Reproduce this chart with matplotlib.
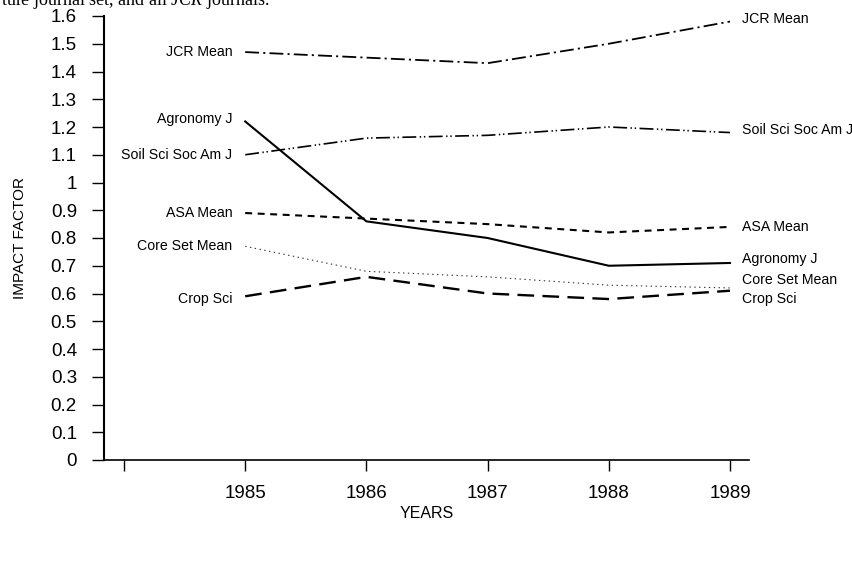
import matplotlib
matplotlib.use("Agg")
import matplotlib.pyplot as plt

years = [1985, 1986, 1987, 1988, 1989]
jcr_mean = [1.47, 1.45, 1.43, 1.50, 1.58]
soil_sci = [1.10, 1.16, 1.17, 1.20, 1.18]
agronomy_j = [1.22, 0.86, 0.80, 0.70, 0.71]
asa_mean = [0.89, 0.87, 0.85, 0.82, 0.84]
core_set_mean = [0.77, 0.68, 0.66, 0.63, 0.62]
crop_sci = [0.59, 0.66, 0.60, 0.58, 0.61]

x_ticks = [1984, 1985, 1986, 1987, 1988, 1989]
x_tick_labels = ["", "1985", "1986", "1987", "1988", "1989"]
y_ticks = [0, 0.1, 0.2, 0.3, 0.4, 0.5, 0.6, 0.7, 0.8, 0.9, 1.0, 1.1, 1.2, 1.3, 1.4, 1.5, 1.6]
y_tick_labels = ["0", "0.1", "0.2", "0.3", "0.4", "0.5", "0.6", "0.7", "0.8", "0.9", "1",
                 "1.1", "1.2", "1.3", "1.4", "1.5", "1.6"]

plt.rcParams["font.family"] = ["Liberation Sans", "DejaVu Sans"]
plt.rcParams["lines.scale_dashes"] = False
plt.rcParams["mathtext.fontset"] = "custom"
plt.rcParams["mathtext.rm"] = "Liberation Serif"
plt.rcParams["mathtext.it"] = "Liberation Serif:italic"

fig = plt.figure(figsize=(8.52, 5.82), dpi=100)
ax = fig.add_axes([104 / 852, 1 - 460 / 582, (749 - 104) / 852, (460 - 16) / 582])

series = [
    ("JCR Mean", jcr_mean, dict(color="black", lw=1.3, ls=(0, (10, 3, 1.5, 3)))),
    ("Soil Sci Soc Am J", soil_sci, dict(color="black", lw=1.2, ls=(0, (10, 2.5, 1, 2, 1, 2.5)))),
    ("Agronomy J", agronomy_j, dict(color="black", lw=1.5, ls="-")),
    ("ASA Mean", asa_mean, dict(color="black", lw=1.5, ls=(0, (5, 4)))),
    ("Core Set Mean", core_set_mean, dict(color="#333333", lw=0.8, ls=(0, (1, 2.5)))),
    ("Crop Sci", crop_sci, dict(color="black", lw=1.7, ls=(0, (12, 6)))),
]
for name, vals, st in series:
    ax.plot(years, vals, **st)

# end labels (value offsets for label placement only)
left_label_dy = {"JCR Mean": 0.0, "Soil Sci Soc Am J": 0.0, "Agronomy J": 0.01,
                 "ASA Mean": 0.0, "Core Set Mean": 0.0, "Crop Sci": -0.01}
right_label_dy = {"JCR Mean": 0.01, "Soil Sci Soc Am J": 0.01, "Agronomy J": 0.015,
                  "ASA Mean": 0.0, "Core Set Mean": 0.03, "Crop Sci": -0.03}
for name, vals, st in series:
    ax.annotate(name, xy=(years[0], vals[0] + left_label_dy[name]), xytext=(-13, 0),
                textcoords="offset pixels", ha="right", va="center", fontsize=10.2,
                annotation_clip=False)
    ax.annotate(name, xy=(years[-1], vals[-1] + right_label_dy[name]), xytext=(12, 0),
                textcoords="offset pixels", ha="left", va="center", fontsize=10.2,
                annotation_clip=False)

ax.set_xlim(1984 - 20 / 121.2, 1989 + 19 / 121.2)
ax.set_ylim(0, 1.6)
ax.set_xticks(x_ticks)
ax.set_xticklabels(x_tick_labels)
ax.set_yticks(y_ticks)
ax.set_yticklabels(y_tick_labels)
ax.tick_params(axis="y", direction="out", length=8.5, width=1.0, pad=11, labelsize=13.5)
ax.tick_params(axis="x", direction="out", length=7.7, width=1.0, pad=10, labelsize=13.5)
for s in ["top", "right"]:
    ax.spines[s].set_visible(False)
ax.spines["left"].set_linewidth(1.5)
ax.spines["bottom"].set_linewidth(1.2)
ax.set_xlabel("YEARS", fontsize=11.5, labelpad=3)
ax.set_ylabel("IMPACT FACTOR", fontsize=11, labelpad=17)

fig.text(1 / 852, 1 - 5 / 582, r"ture journal set, and all $\mathit{JCR}$ journals.",
         fontsize=13, family="Liberation Serif", ha="left", va="baseline")

fig.savefig("out.png", dpi=100)
